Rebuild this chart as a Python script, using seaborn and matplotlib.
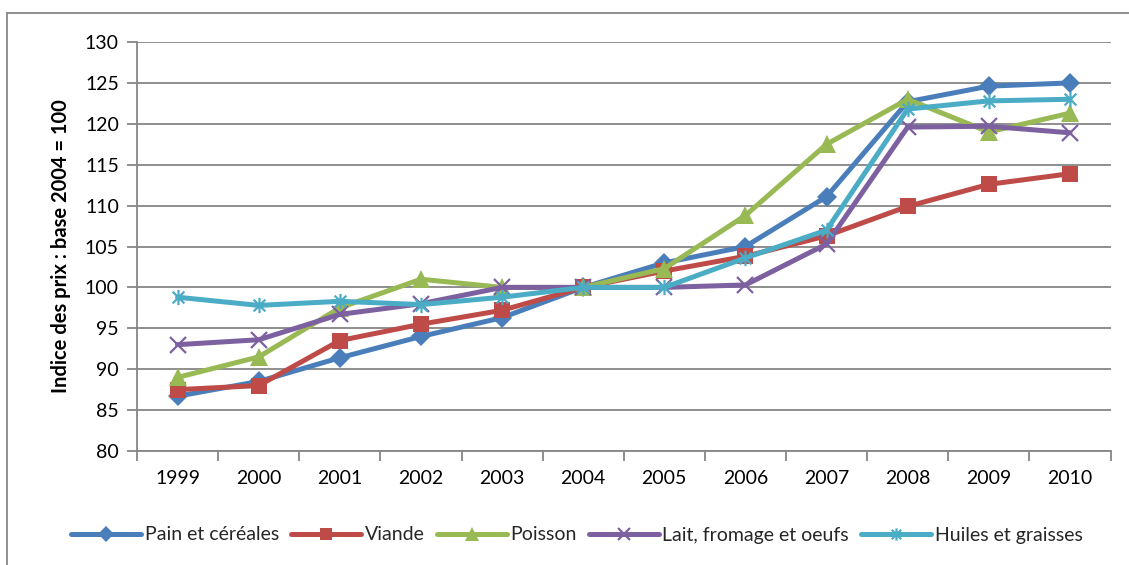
import matplotlib
matplotlib.use("Agg")
import matplotlib.pyplot as plt
import seaborn as sns
import pandas as pd
from matplotlib.path import Path
from matplotlib.patches import Rectangle

years = ["1999", "2000", "2001", "2002", "2003", "2004", "2005", "2006", "2007", "2008", "2009", "2010"]
pain = [86.7, 88.5, 91.4, 94.0, 96.3, 100.0, 103.0, 105.0, 111.1, 122.7, 124.6, 125.0]
viande = [87.5, 88.0, 93.5, 95.5, 97.2, 100.0, 102.0, 103.8, 106.3, 109.9, 112.6, 113.9]
poisson = [89.0, 91.5, 97.5, 101.0, 100.0, 100.0, 102.3, 108.8, 117.5, 123.0, 119.0, 121.3]
lait = [93.0, 93.6, 96.7, 98.0, 100.0, 100.0, 100.0, 100.3, 105.3, 119.6, 119.7, 118.9]
huiles = [98.8, 97.8, 98.3, 97.9, 98.8, 100.0, 100.0, 103.6, 107.0, 121.8, 122.8, 123.0]
series_names = ["Pain et céréales", "Viande", "Poisson", "Lait, fromage et oeufs", "Huiles et graisses"]
ylabel = "Indice des prix : base 2004 = 100"

sns.set_theme(style="white")
plt.rcParams["font.family"] = ["Lato", "DejaVu Sans"]

star = Path([(-1, -1), (1, 1), (-1, 1), (1, -1), (0, -1.3), (0, 1.3)],
            [Path.MOVETO, Path.LINETO, Path.MOVETO, Path.LINETO, Path.MOVETO, Path.LINETO])
styles = [
    dict(color="#4A7EBB", marker="D", markersize=10.5, mew=0),
    dict(color="#BE4B48", marker="s", markersize=11.5, mew=0),
    dict(color="#98B954", marker="^", markersize=13, mew=0),
    dict(color="#7D60A0", marker="x", markersize=11, mew=1.6),
    dict(color="#4AACC5", marker=star, markersize=11, mew=1.6),
]

fig = plt.figure(figsize=(11.29, 5.65), dpi=100)
ax = fig.add_axes([137 / 1129, 1 - 451 / 565, (1110.5 - 137) / 1129, (451 - 42) / 565])

data = [pain, viande, poisson, lait, huiles]
for name, vals, st in zip(series_names, data, styles):
    df = pd.DataFrame({"year": years, "value": vals})
    sns.lineplot(data=df, x="year", y="value", ax=ax, label=name, color=st["color"],
                 marker=st["marker"], markersize=st["markersize"], markeredgewidth=st["mew"],
                 markeredgecolor=st["color"], linewidth=3.6, sort=False)

ax.set_xlim(-0.5, len(years) - 0.5)
ax.set_ylim(80, 130)
ax.set_yticks(range(80, 131, 5))
ax.yaxis.grid(True, color="#868686", linewidth=1.3)
ax.xaxis.grid(False)
for s in ["top", "right"]:
    ax.spines[s].set_visible(False)
for s in ["left", "bottom"]:
    ax.spines[s].set_color("#868686")
    ax.spines[s].set_linewidth(1.3)
ax.set_xticks(range(len(years)))
ax.set_xticklabels(years)
ax.set_xticks([i - 0.5 for i in range(len(years) + 1)], minor=True)
ax.tick_params(axis="x", which="major", length=0, pad=14, labelsize=14, labelcolor="black")
ax.tick_params(axis="x", which="minor", length=7, width=1.3, color="#868686", direction="out", bottom=True)
ax.tick_params(axis="y", which="major", length=7, width=1.3, color="#868686", direction="out", left=True,
               labelsize=14, labelcolor="black", pad=6)
ax.set_xlabel("")
ax.set_ylabel(ylabel, fontsize=14.5, fontweight="bold", color="black", labelpad=10)

handles, labels = ax.get_legend_handles_labels()
ax.legend(handles, labels, loc="center", bbox_to_anchor=(577 / 1129, 1 - 535 / 565),
          bbox_transform=fig.transFigure, ncol=5, frameon=False, fontsize=14,
          handlelength=3.6, handletextpad=0.2, columnspacing=0.6, markerscale=0.8)

fig.patches.append(Rectangle((7 / 1129, -0.1), 1.2, 1 - 13 / 565 + 0.1, transform=fig.transFigure,
                             fill=False, edgecolor="#868686", linewidth=1.3))

fig.savefig("out.png", dpi=100)
